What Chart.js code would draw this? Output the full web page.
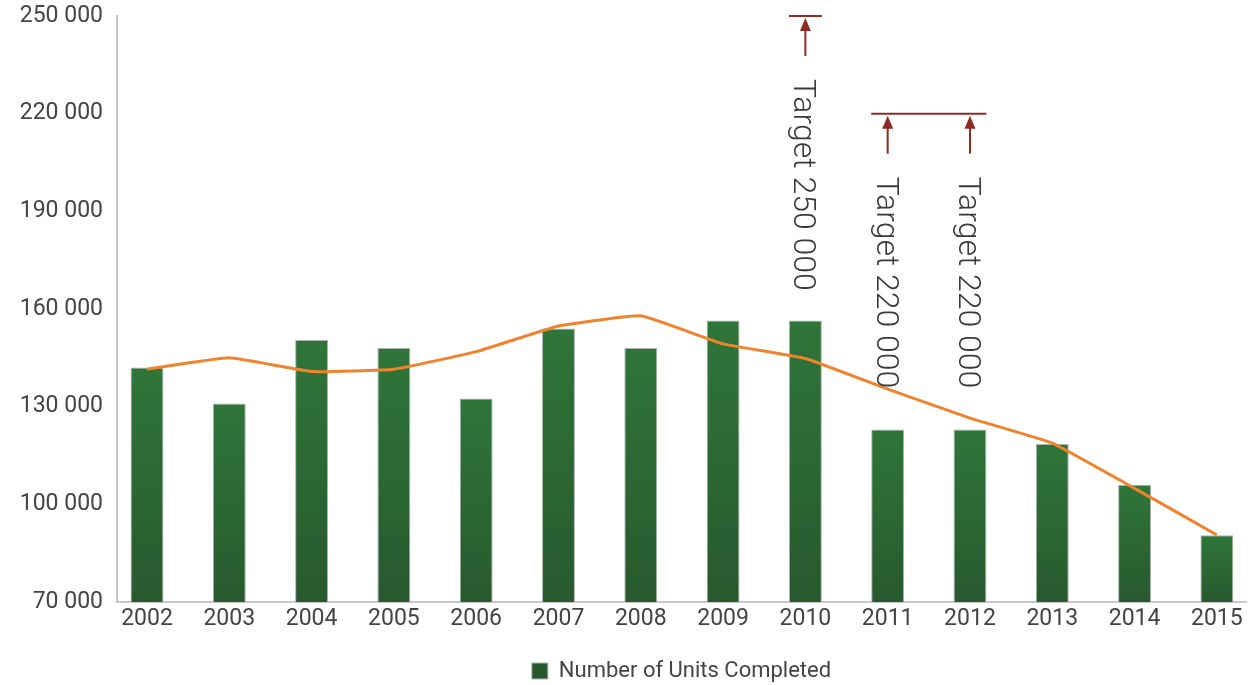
<!DOCTYPE html>
<html>
<head>
<meta charset="utf-8">
<title>Number of Units Completed</title>
<script src="https://cdn.jsdelivr.net/npm/chart.js@4.4.1/dist/chart.umd.min.js"></script>
<style>
  html, body { margin: 0; padding: 0; background: #fff; }
  #wrap { width: 1259px; height: 685px; }
</style>
</head>
<body>
<div id="wrap"><canvas id="myChart"></canvas></div>
<script>
const years = ['2002','2003','2004','2005','2006','2007','2008','2009','2010','2011','2012','2013','2014','2015'];
const unitsCompleted = [142000,131000,150500,148000,132500,154000,148000,156500,156500,123000,123000,118500,106000,90500];
const trendLine = [141500,145000,140800,141500,146900,154800,157900,149300,144800,135400,126500,118800,104900,90600];
const targetYears = ['2010','2011','2012'];
const targetValues = [250000,220000,220000];
const yMin = 70000, yMax = 250000, yStep = 30000;

function fmt(v) {
  return String(v).replace(/\B(?=(\d{3})+(?!\d))/g, ' ');
}

Chart.defaults.font.family = 'Roboto';
Chart.defaults.color = '#444';

// arrows, caps and rotated labels for the targets
const targetMarks = {
  id: 'targetMarks',
  afterDatasetsDraw(chart) {
    const ctx = chart.ctx;
    const ys = chart.scales.y;
    const bars = chart.getDatasetMeta(1).data;
    ctx.save();
    ctx.strokeStyle = '#8e2c24';
    ctx.fillStyle = '#8e2c24';
    ctx.lineWidth = 2;

    // one cap per run of consecutive years sharing the same target
    let i = 0;
    while (i < targetYears.length) {
      let j = i;
      while (j + 1 < targetYears.length &&
             targetValues[j + 1] === targetValues[i] &&
             years.indexOf(targetYears[j + 1]) === years.indexOf(targetYears[j]) + 1) j++;
      const first = bars[years.indexOf(targetYears[i])];
      const last = bars[years.indexOf(targetYears[j])];
      const ty = ys.getPixelForValue(targetValues[i]);
      ctx.beginPath();
      ctx.moveTo(first.x - first.width / 2, ty);
      ctx.lineTo(last.x + last.width / 2, ty);
      ctx.stroke();
      i = j + 1;
    }

    targetYears.forEach((yr, k) => {
      const bar = bars[years.indexOf(yr)];
      const ty = ys.getPixelForValue(targetValues[k]);
      ctx.beginPath();
      ctx.moveTo(bar.x, ty + 40);
      ctx.lineTo(bar.x, ty + 12);
      ctx.stroke();
      ctx.beginPath();
      ctx.moveTo(bar.x, ty + 2);
      ctx.lineTo(bar.x - 5.5, ty + 15);
      ctx.lineTo(bar.x + 5.5, ty + 15);
      ctx.closePath();
      ctx.fill();

      ctx.save();
      ctx.translate(bar.x - 3, ty + 63);
      ctx.rotate(Math.PI / 2);
      ctx.fillStyle = '#3a3a3a';
      ctx.font = '300 32px Roboto';
      ctx.textAlign = 'left';
      ctx.textBaseline = 'middle';
      ctx.fillText('Target ' + fmt(targetValues[k]), 0, 0);
      ctx.restore();
    });
    ctx.restore();
  }
};

new Chart('myChart', {
  type: 'bar',
  data: {
    datasets: [{
      type: 'line',
      label: 'Trend',
      data: trendLine.map((v, i) => ({x: i, y: v})),
      borderColor: '#f0832e',
      borderWidth: 3,
      pointRadius: 0,
      tension: 0.1,
      fill: false
    }, {
      type: 'bar',
      label: 'Number of Units Completed',
      data: unitsCompleted.map((v, i) => ({x: i, y: v})),
      backgroundColor(c) {
        const chart = c.chart;
        const area = chart.chartArea;
        if (!area || c.type !== 'data') return '#2c6a35';
        const top = chart.scales.y.getPixelForValue(c.raw.y);
        const g = chart.ctx.createLinearGradient(0, top, 0, area.bottom);
        g.addColorStop(0, '#2f7539');
        g.addColorStop(1, '#28592e');
        return g;
      },
      borderColor: '#a9b5aa',
      borderWidth: 1,
      barPercentage: 0.4,
      categoryPercentage: 1
    }]
  },
  options: {
    responsive: true,
    maintainAspectRatio: false,
    animation: false,
    layout: { padding: { top: 16, right: 13, left: 0, bottom: -7 } },
    scales: {
      x: {
        type: 'linear',
        offset: false,
        min: -0.3645,
        max: 13.354,
        grid: { display: false, drawTicks: false },
        border: { display: true, color: '#c8c8c8', width: 2 },
        afterFit(scale) { scale.height = 58; },
        ticks: {
          stepSize: 1,
          includeBounds: false,
          autoSkip: false,
          maxRotation: 0,
          padding: 3,
          color: '#444',
          font: { size: 23 },
          callback: v => years[v] ?? ''
        }
      },
      y: {
        min: yMin,
        max: yMax,
        grid: { display: false, drawTicks: false },
        border: { display: true, color: '#c8c8c8', width: 2 },
        afterFit(scale) {
          scale.width = 117;
          scale.paddingTop = 0;
          scale.paddingBottom = 0;
        },
        ticks: {
          stepSize: yStep,
          padding: 14,
          color: '#444',
          font: { size: 23 },
          callback: v => fmt(v)
        }
      }
    },
    plugins: {
      legend: {
        position: 'bottom',
        fullSize: false,
        labels: {
          filter: item => item.datasetIndex === 1,
          boxWidth: 16,
          boxHeight: 16,
          padding: 0,
          color: '#444',
          font: { size: 22 }
        }
      },
      tooltip: { enabled: false }
    }
  },
  plugins: [targetMarks]
});
</script>
</body>
</html>
